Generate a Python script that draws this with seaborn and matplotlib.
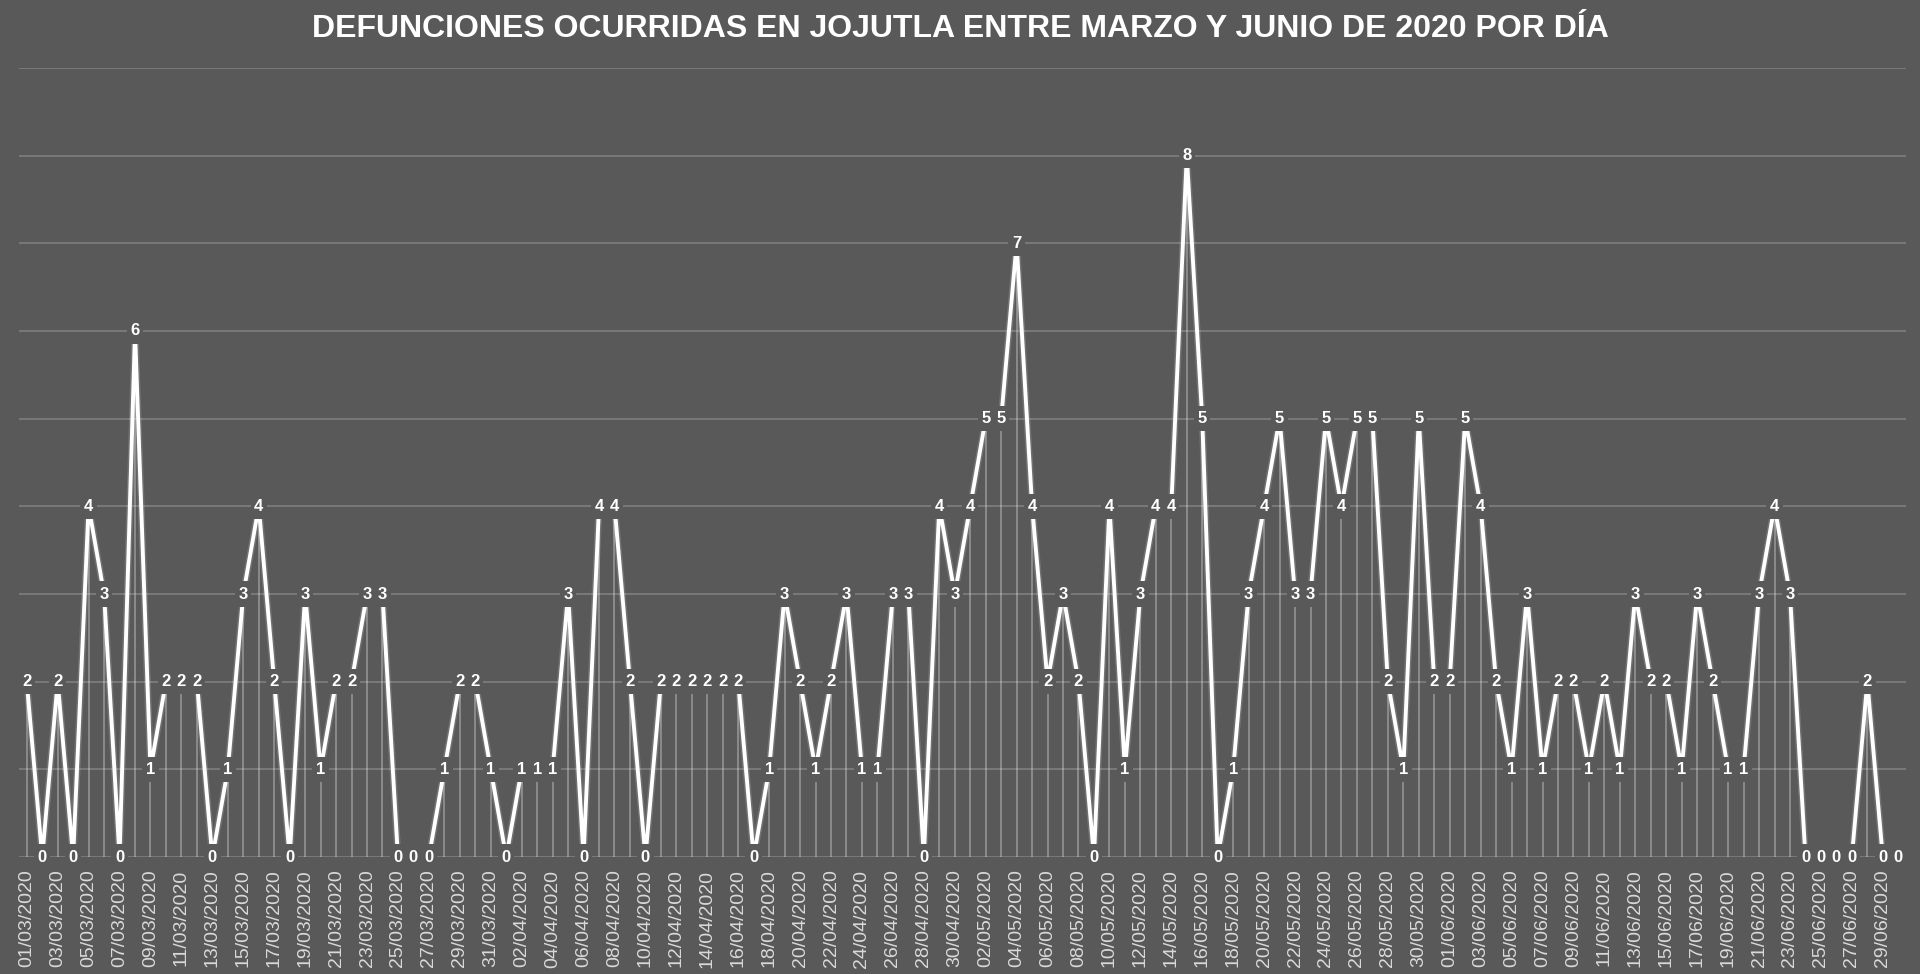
import numpy as np
import pandas as pd
import matplotlib
matplotlib.use("Agg")
import matplotlib.pyplot as plt
import seaborn as sns

# Defunciones diarias
marzo = [2, 0, 2, 0, 4, 3, 0, 6, 1, 2, 2, 2, 0, 1, 3, 4, 2, 0, 3, 1,
         2, 2, 3, 3, 0, 0, 0, 1, 2, 2, 1]
abril = [0, 1, 1, 1, 3, 0, 4, 4, 2, 0, 2, 2, 2, 2, 2, 2, 0, 1, 3, 2,
         1, 2, 3, 1, 1, 3, 3, 0, 4, 3]
mayo = [4, 5, 5, 7, 4, 2, 3, 2, 0, 4, 1, 3, 4, 4, 8, 5, 0, 1, 3, 4,
        5, 3, 3, 5, 4, 5, 5, 2, 1, 5, 2]
junio = [2, 5, 4, 2, 1, 3, 1, 2, 2, 1, 2, 1, 3, 2, 2, 1, 3, 2, 1, 1,
         3, 4, 3, 0, 0, 0, 0, 2, 0, 0]

fechas = pd.date_range("2020-03-01", "2020-06-30", freq="D")
titulo = "DEFUNCIONES OCURRIDAS EN JOJUTLA ENTRE MARZO Y JUNIO DE 2020 POR DÍA"

df = pd.DataFrame({"fecha": fechas.strftime("%d/%m/%Y"),
                   "muertes": marzo + abril + mayo + junio})
df["idx"] = np.arange(len(df))

bg = "#595959"
sns.set_style("darkgrid", {"axes.facecolor": bg, "figure.facecolor": bg,
                           "grid.color": "#7f7f7f"})
plt.rcParams["font.family"] = ["Liberation Sans", "DejaVu Sans"]

fig = plt.figure(figsize=(19.2, 9.74), dpi=100)
ax = fig.add_axes([0.0099, 0.1201, 0.9828, 0.8101])

# lineas de caida hasta el eje
ax.vlines(df["idx"], 0, df["muertes"], color="white", alpha=0.35, lw=1.2, zorder=1)

# linea con brillo suave
sns.lineplot(data=df, x="idx", y="muertes", color="white", lw=5, alpha=0.15, ax=ax, zorder=2)
sns.lineplot(data=df, x="idx", y="muertes", color="white", lw=2.8, ax=ax, zorder=2)

# cajas de fondo detras de las etiquetas (como en Excel)
caja = [(-0.64, -1), (0.64, -1), (0.64, 1), (-0.64, 1)]
ax.scatter(df["idx"], df["muertes"], marker=caja, s=340, color=bg,
           edgecolors="none", zorder=3)

for i, v in zip(df["idx"], df["muertes"]):
    ax.text(i, v, str(v), ha="center", va="center", color="white",
            fontsize=12, fontweight="bold", zorder=4)

ax.set_xlim(-0.5, len(df) - 0.5)
ax.set_ylim(0, 9)
ax.set_yticks(range(10))
ax.set_yticklabels([])
ax.set_xticks(df["idx"][::2])
ax.set_xticklabels(df["fecha"][::2], rotation=90, color="#d9d9d9", fontsize=14)
ax.tick_params(axis="x", length=0, pad=9)
ax.tick_params(axis="y", length=0)
ax.grid(axis="x", visible=False)
ax.grid(axis="y", color="#7f7f7f", lw=1.2)
ax.set_xlabel("")
ax.set_ylabel("")
for s in ax.spines.values():
    s.set_visible(False)

fig.text(0.5, 0.97, titulo, ha="center", va="center", color="white",
         fontsize=23, fontweight="bold")

fig.savefig("out.png", dpi=100, facecolor=bg)
